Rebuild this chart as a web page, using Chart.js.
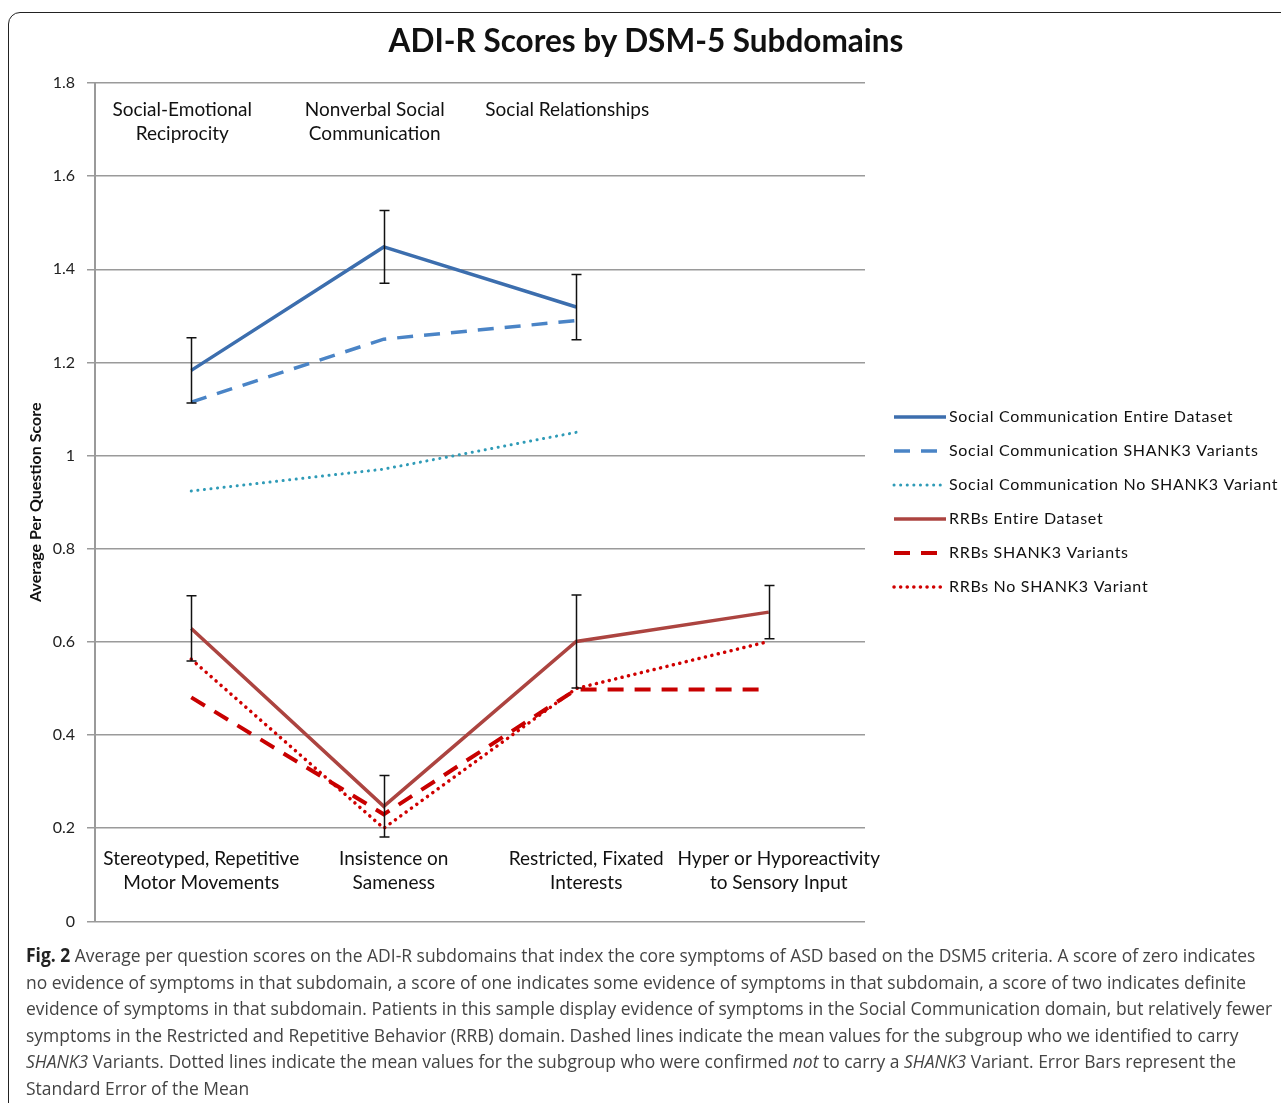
<!DOCTYPE html>
<html>
<head>
<meta charset="utf-8">
<script src="https://cdn.jsdelivr.net/npm/chart.js@4.4.1/dist/chart.umd.min.js"></script>
<style>
body { margin:0; background:#fff; width:1281px; height:1103px; overflow:hidden; position:relative; }
#moldura { position:absolute; left:8px; top:12px; width:1320px; height:1140px; border:1.5px solid #222; border-top-left-radius:12px; box-sizing:border-box; }
#titulo { position:absolute; top:21px; left:0; width:1292px; text-align:center; font:bold 31.5px Lato, sans-serif; line-height:38px; color:#111; }
#caixa { position:absolute; left:0; top:0; width:1281px; height:943px; }
#legenda { position:absolute; left:26px; top:942px; font:19px 'Open Sans', sans-serif; line-height:26.5px; color:#444; white-space:nowrap; transform-origin:0 0; }
#legenda span { display:block; }
#legenda b { color:#222; }
</style>
</head>
<body>
<div id="moldura"></div>
<div id="caixa"><canvas id="grafico"></canvas></div>
<div id="titulo">ADI-R Scores by DSM-5 Subdomains</div>
<div id="legenda">
<span id="linha1"><b>Fig. 2</b> Average per question scores on the ADI-R subdomains that index the core symptoms of ASD based on the DSM5 criteria. A score of zero indicates</span>
<span>no evidence of symptoms in that subdomain, a score of one indicates some evidence of symptoms in that subdomain, a score of two indicates definite</span>
<span>evidence of symptoms in that subdomain. Patients in this sample display evidence of symptoms in the Social Communication domain, but relatively fewer</span>
<span>symptoms in the Restricted and Repetitive Behavior (RRB) domain. Dashed lines indicate the mean values for the subgroup who we identified to carry</span>
<span><i>SHANK3</i> Variants. Dotted lines indicate the mean values for the subgroup who were confirmed <i>not</i> to carry a <i>SHANK3</i> Variant. Error Bars represent the</span>
<span>Standard Error of the Mean</span>
</div>
<script>
// Subdomínios (rótulos desenhados dentro do gráfico)
const subdominiosSocial = [['Social-Emotional', 'Reciprocity'], ['Nonverbal Social', 'Communication'], ['Social Relationships']];
const subdominiosRRB = [['Stereotyped, Repetitive', 'Motor Movements'], ['Insistence on', 'Sameness'], ['Restricted, Fixated', 'Interests'], ['Hyper or Hyporeactivity', 'to Sensory Input']];

// Valores
const socialTotal = [1.183, 1.448, 1.319, null];
const socialShank3 = [1.115, 1.250, 1.290, null];
const socialSemShank3 = [0.924, 0.971, 1.050, null];
const rrbTotal = [0.629, 0.247, 0.601, 0.664];
const rrbShank3 = [0.481, 0.230, 0.498, 0.498];
const rrbSemShank3 = [0.563, 0.200, 0.500, 0.601];

// Erro padrão da média (só nas séries completas)
const erroSocial = [0.070, 0.078, 0.070, null];
const erroRRB = [0.070, 0.066, 0.100, 0.057];

// Eixo y
const ticksY = [0, 0.2, 0.4, 0.6, 0.8, 1, 1.2, 1.4, 1.6, 1.8];

const FONTE = 'Lato, sans-serif';

// Plugin para barras de erro
const barrasErro = {
    id: 'barrasErro',
    afterDatasetsDraw(chart) {
        const ctx = chart.ctx;
        const x = chart.scales.x, y = chart.scales.y;
        const pares = [[socialTotal, erroSocial], [rrbTotal, erroRRB]];
        ctx.save();
        ctx.strokeStyle = '#111';
        ctx.lineWidth = 1.5;
        pares.forEach(([valores, erros]) => {
            valores.forEach((v, i) => {
                if (v === null || erros[i] === null) return;
                const px = Math.round(x.getPixelForValue(i)) + 0.5;
                const y1 = y.getPixelForValue(v + erros[i]);
                const y2 = y.getPixelForValue(v - erros[i]);
                ctx.beginPath();
                ctx.moveTo(px, y1); ctx.lineTo(px, y2);
                ctx.moveTo(px - 5, y1); ctx.lineTo(px + 5, y1);
                ctx.moveTo(px - 5, y2); ctx.lineTo(px + 5, y2);
                ctx.stroke();
            });
        });
        ctx.restore();
    }
};

// Plugin para os rótulos de subdomínio e a legenda
const rotulos = {
    id: 'rotulos',
    afterDraw(chart) {
        const ctx = chart.ctx;
        const x = chart.scales.x;
        const area = chart.chartArea;
        ctx.save();
        ctx.fillStyle = '#111';
        ctx.font = '19px ' + FONTE;
        ctx.textAlign = 'center';
        ctx.textBaseline = 'middle';
        subdominiosSocial.forEach((linhas, i) => {
            const px = x.getPixelForValue(i);
            linhas.forEach((t, j) => ctx.fillText(t, px - 9, area.top + 27 + j * 24));
        });
        subdominiosRRB.forEach((linhas, i) => {
            const px = x.getPixelForValue(i);
            linhas.forEach((t, j) => ctx.fillText(t, px + 10, area.bottom - 63 + j * 24));
        });

        // legenda
        ctx.font = '16px ' + FONTE;
        ctx.letterSpacing = '0.7px';
        ctx.textAlign = 'left';
        chart.data.datasets.forEach((ds, i) => {
            const ly = 417 + i * 34;
            ctx.save();
            ctx.strokeStyle = ds.borderColor;
            ctx.lineWidth = ds.borderWidth;
            ctx.lineCap = ds.borderCapStyle || 'butt';
            ctx.setLineDash(ds.borderDash || []);
            ctx.beginPath();
            ctx.moveTo(894, ly); ctx.lineTo(946, ly);
            ctx.stroke();
            ctx.restore();
            ctx.fillStyle = '#111';
            ctx.fillText(ds.label, 949, ly);
        });
        ctx.restore();
    }
};

function inicializarGrafico() {
    const ctx = document.getElementById('grafico').getContext('2d');
    new Chart(ctx, {
        type: 'line',
        data: {
            labels: subdominiosRRB.map(l => l.join(' ')),
            datasets: [
                { label: 'Social Communication Entire Dataset', data: socialTotal, borderColor: '#3C6EAE', borderWidth: 3.5 },
                { label: 'Social Communication SHANK3 Variants', data: socialShank3, borderColor: '#4A84C6', borderWidth: 3.5, borderDash: [16, 11] },
                { label: 'Social Communication No SHANK3 Variant', data: socialSemShank3, borderColor: '#2F9BB7', borderWidth: 3, borderDash: [0.1, 6.5], borderCapStyle: 'round' },
                { label: 'RRBs Entire Dataset', data: rrbTotal, borderColor: '#AC4440', borderWidth: 3.5 },
                { label: 'RRBs SHANK3 Variants', data: rrbShank3, borderColor: '#C80000', borderWidth: 4, borderDash: [16, 11] },
                { label: 'RRBs No SHANK3 Variant', data: rrbSemShank3, borderColor: '#D00000', borderWidth: 3.5, borderDash: [0.1, 6.5], borderCapStyle: 'round' }
            ]
        },
        options: {
            responsive: true,
            maintainAspectRatio: false,
            animation: false,
            spanGaps: false,
            layout: { padding: { top: 83, bottom: 6, right: 416, left: 0 } },
            elements: { point: { radius: 0 }, line: { tension: 0, fill: false } },
            plugins: { legend: { display: false }, tooltip: { enabled: false }, title: { display: false } },
            scales: {
                x: { display: false, offset: true },
                y: {
                    min: 0,
                    max: 1.8,
                    afterFit(s) { s.width = 95; },
                    afterBuildTicks(s) { s.ticks = ticksY.map(v => ({ value: v })); },
                    ticks: { color: '#222', font: { family: FONTE, size: 16 }, padding: 12, callback: v => String(v) },
                    grid: { color: '#9a9a9a', lineWidth: 1.5, tickLength: 8 },
                    border: { color: '#9a9a9a', width: 2 },
                    title: { display: true, text: 'Average Per Question Score', color: '#111', font: { family: FONTE, size: 16, weight: 'bold' }, padding: { top: 26, bottom: 0 } }
                }
            }
        },
        plugins: [barrasErro, rotulos]
    });

    // Ajusta a largura da legenda da figura (fonte condensada no original)
    const linha = document.getElementById('linha1');
    const k = 1246 / linha.scrollWidth;
    document.getElementById('legenda').style.transform = 'scaleX(' + k + ')';
}

document.addEventListener('DOMContentLoaded', inicializarGrafico);
</script>
</body>
</html>
